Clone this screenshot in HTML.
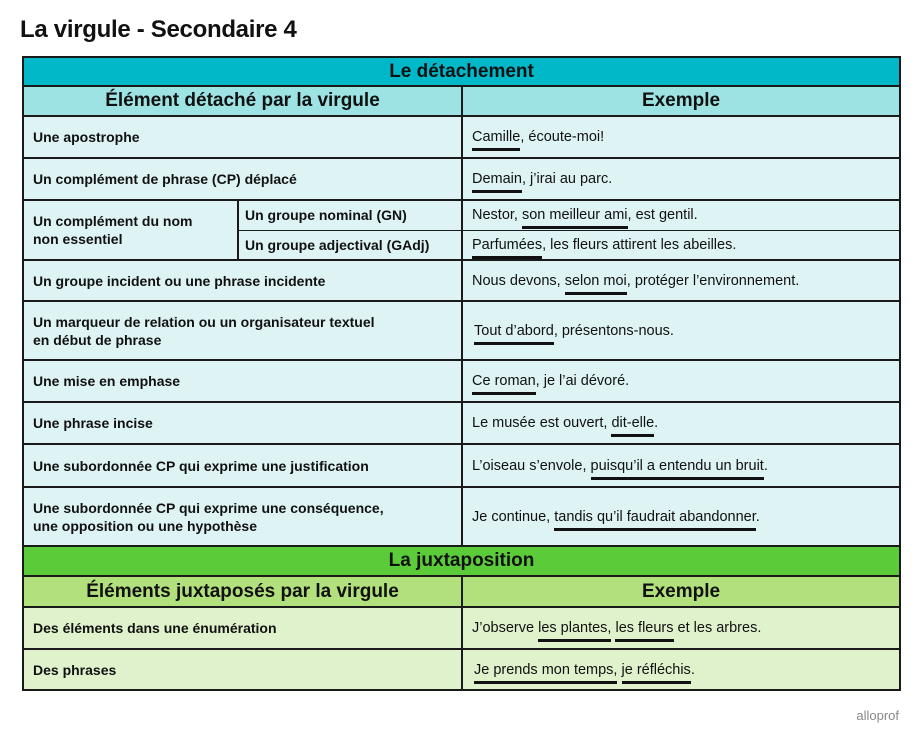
<!DOCTYPE html>
<html><head><meta charset="utf-8"><style>
body{margin:0;background:#fff;width:921px;height:740px;position:relative;font-family:"Liberation Sans",sans-serif;color:#111;overflow:hidden}
h1{position:absolute;left:20px;top:16px;margin:0;font-size:24px;font-weight:bold;letter-spacing:-0.3px}
table{position:absolute;left:22px;top:56px;border-collapse:collapse;table-layout:fixed;width:877px}
td{border:2px solid #1a1a1a;padding:0 0 0 9px;vertical-align:middle;font-size:14px;line-height:18px}
.l{font-weight:bold;font-size:14px}
.t1{background:#00b8c8;text-align:center;font-weight:bold;font-size:19px;padding:0}
.h1{background:#9de3e3;text-align:center;font-weight:bold;font-size:19px;padding:0}
.r1{background:#def3f4}
.t2{background:#5ccb3a;text-align:center;font-weight:bold;font-size:19px;padding:0}
.h2{background:#b2e07c;text-align:center;font-weight:bold;font-size:19px;padding:0}
.r2{background:#dff2cc}
.e{font-size:14.5px}
u{text-decoration:none;border-bottom:3px solid #111;padding-bottom:3px}
.logo{position:absolute;right:22px;top:708px;font-size:13px;color:#888}
</style></head><body>
<h1>La virgule - Secondaire 4</h1>
<table>
<colgroup><col style="width:215px"><col style="width:224px"><col style="width:438px"></colgroup>
<tr style="height:29px"><td class="t1" colspan="3">Le détachement</td></tr>
<tr style="height:30px"><td class="h1" colspan="2">Élément détaché par la virgule</td><td class="h1">Exemple</td></tr>
<tr style="height:42px" class="r1"><td class="l" colspan="2">Une apostrophe</td><td class="e"><u>Camille</u>, écoute-moi!</td></tr>
<tr style="height:42px" class="r1"><td class="l" colspan="2">Un complément de phrase (CP) déplacé</td><td class="e"><u>Demain</u>, j’irai au parc.</td></tr>
<tr style="height:30px" class="r1"><td class="l" rowspan="2">Un complément du nom<br>non essentiel</td><td class="l" style="border-bottom-width:1px;padding-left:6px">Un groupe nominal (GN)</td><td class="e" style="border-bottom-width:1px">Nestor, <u>son meilleur ami</u>, est gentil.</td></tr>
<tr style="height:30px" class="r1"><td class="l" style="border-top-width:1px;padding-left:6px">Un groupe adjectival (GAdj)</td><td class="e" style="border-top-width:1px"><u>Parfumées</u>, les fleurs attirent les abeilles.</td></tr>
<tr style="height:41px" class="r1"><td class="l" colspan="2">Un groupe incident ou une phrase incidente</td><td class="e">Nous devons, <u>selon moi</u>, protéger l’environnement.</td></tr>
<tr style="height:59px" class="r1"><td class="l" colspan="2">Un marqueur de relation ou un organisateur textuel<br>en début de phrase</td><td class="e" style="padding-left:11px"><u>Tout d’abord</u>, présentons-nous.</td></tr>
<tr style="height:42px" class="r1"><td class="l" colspan="2">Une mise en emphase</td><td class="e"><u>Ce roman</u>, je l’ai dévoré.</td></tr>
<tr style="height:42px" class="r1"><td class="l" colspan="2">Une phrase incise</td><td class="e">Le musée est ouvert, <u>dit-elle</u>.</td></tr>
<tr style="height:43px" class="r1"><td class="l" colspan="2">Une subordonnée CP qui exprime une justification</td><td class="e">L’oiseau s’envole, <u>puisqu’il a entendu un bruit</u>.</td></tr>
<tr style="height:59px" class="r1"><td class="l" colspan="2">Une subordonnée CP qui exprime une conséquence,<br>une opposition ou une hypothèse</td><td class="e">Je continue, <u>tandis qu’il faudrait abandonner</u>.</td></tr>
<tr style="height:30px"><td class="t2" colspan="3">La juxtaposition</td></tr>
<tr style="height:31px"><td class="h2" colspan="2">Éléments juxtaposés par la virgule</td><td class="h2">Exemple</td></tr>
<tr style="height:42px" class="r2"><td class="l" colspan="2">Des éléments dans une énumération</td><td class="e">J’observe <u>les plantes,</u> <u>les fleurs</u> et les arbres.</td></tr>
<tr style="height:41px" class="r2"><td class="l" colspan="2">Des phrases</td><td class="e" style="padding-left:11px"><u>Je prends mon temps,</u> <u>je réfléchis</u>.</td></tr>
</table>
<div class="logo">alloprof</div>
</body></html>
